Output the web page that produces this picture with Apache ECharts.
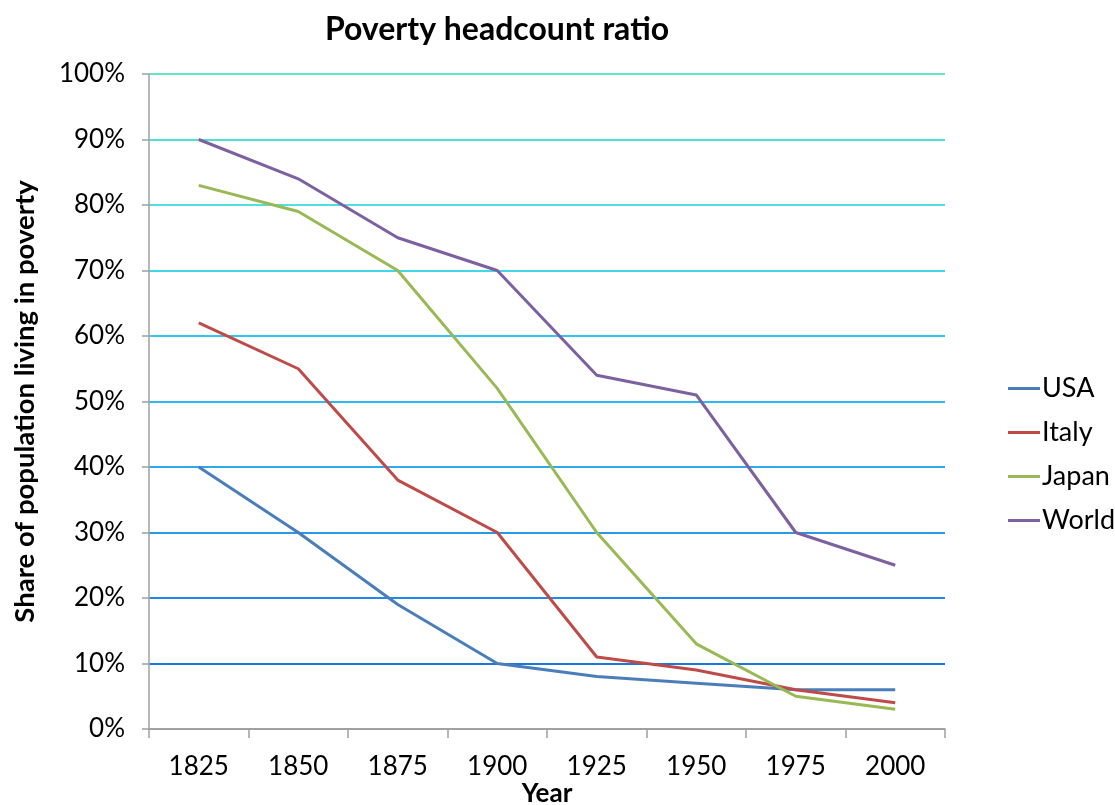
<!DOCTYPE html>
<html>
<head>
<meta charset="utf-8">
<script src="https://cdn.jsdelivr.net/npm/echarts@6/dist/echarts.min.js"></script>
<style>
  html, body { margin: 0; padding: 0; background: #fff; }
  #chart { width: 1115px; height: 805px; }
</style>
</head>
<body>
<div id="chart"></div>
<script>
var years = ['1825', '1850', '1875', '1900', '1925', '1950', '1975', '2000'];
var usa = [40, 30, 19, 10, 8, 7, 6, 6];
var italy = [62, 55, 38, 30, 11, 9, 6, 4];
var japan = [83, 79, 70, 52, 30, 13, 5, 3];
var world = [90, 84, 75, 70, 54, 51, 30, 25];

// gridline colours from 0% up to 100% (they fade from blue to turquoise)
var gridColors = ['#a0a0a0', '#1878e0', '#2088e8', '#2898e8', '#30a8f0', '#30b8f0',
  '#30c8f0', '#40d8e8', '#50e0e0', '#50e0d0', '#5ee8c8'];

var font = 'Lato, "Open Sans", sans-serif';

function line(name, data, color) {
  return {
    name: name,
    type: 'line',
    data: data,
    symbol: 'none',
    lineStyle: { color: color, width: 3 },
    itemStyle: { color: color }
  };
}

var chart = echarts.init(document.getElementById('chart'), null, { renderer: 'canvas' });
chart.setOption({
  animation: false,
  backgroundColor: '#fff',
  textStyle: { fontFamily: font },
  title: {
    text: 'Poverty headcount ratio',
    left: 492,
    top: 9,
    textAlign: 'center',
    textStyle: { fontFamily: font, fontSize: 32, fontWeight: 'bold', color: '#000' }
  },
  legend: {
    orient: 'vertical',
    left: 1003,
    top: 370,
    itemGap: 17,
    itemWidth: 32,
    itemHeight: 3,
    icon: 'rect',
    textStyle: { fontFamily: font, fontSize: 27, color: '#000', padding: [0, 0, 0, -3] },
    data: ['USA', 'Italy', 'Japan', 'World']
  },
  grid: { left: 149, right: 170, top: 74, bottom: 76, outerBoundsMode: 'none', containLabel: false },
  xAxis: {
    type: 'category',
    data: years,
    name: 'Year',
    nameLocation: 'middle',
    nameGap: 52,
    nameMoveOverlap: false,
    nameTextStyle: { fontFamily: font, fontSize: 26, fontWeight: 'bold', color: '#000' },
    axisLine: { lineStyle: { color: '#a0a0a0', width: 1.5 } },
    axisTick: { show: true, length: 9, lineStyle: { color: '#a0a0a0', width: 1.5 } },
    axisLabel: { fontFamily: font, fontSize: 26, color: '#000', margin: 25 },
    splitLine: { show: false }
  },
  yAxis: {
    type: 'value',
    min: 0,
    max: 100,
    interval: 10,
    name: 'Share of population living in poverty',
    nameLocation: 'middle',
    nameGap: 110,
    nameMoveOverlap: false,
    nameTextStyle: { fontFamily: font, fontSize: 27.5, fontWeight: 'bold', color: '#000' },
    axisLine: { show: true, lineStyle: { color: '#a0a0a0', width: 1.5 } },
    axisTick: { show: true, length: 7, lineStyle: { color: '#a0a0a0', width: 1.5 } },
    axisLabel: { fontFamily: font, fontSize: 26, color: '#000', margin: 24, formatter: '{value}%' },
    splitLine: { show: true, lineStyle: { color: gridColors, width: 2 } }
  },
  series: [
    line('USA', usa, '#4a7ebb'),
    line('Italy', italy, '#be4b48'),
    line('Japan', japan, '#98b954'),
    line('World', world, '#7d60a0')
  ]
});
</script>
</body>
</html>
